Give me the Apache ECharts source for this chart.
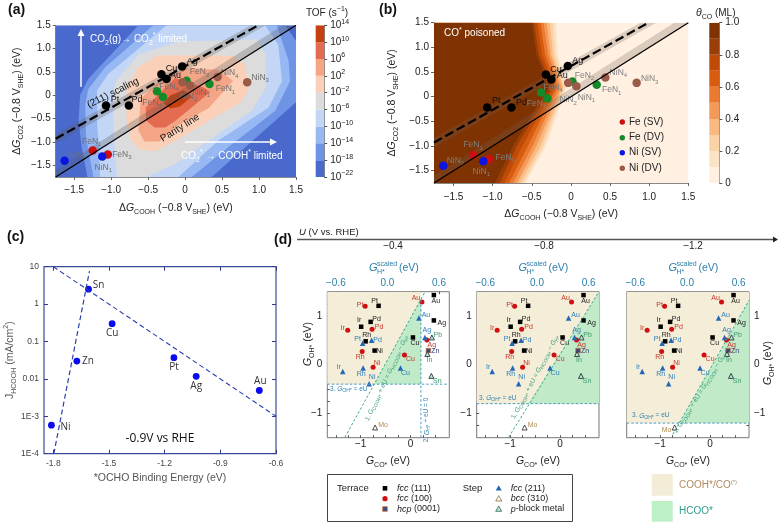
<!DOCTYPE html>
<html><head><meta charset="utf-8">
<style>html,body{margin:0;padding:0;background:#fff}#c{width:780px;height:525px}</style>
<script src="https://cdn.jsdelivr.net/npm/echarts@6/dist/echarts.min.js"></script>
</head><body><div id="c"></div>
<script>
// ---------- panel (a) values ----------
const TOF_EDGES=[-22,-18,-14,-10,-6,-2,2,6,10,14];
const TOF_TICKS=[14,10,6,2,-2,-6,-10,-14,-18,-22];
const A_FULL=[[-1.75,-1.75],[1.5,-1.75],[1.5,1.5],[-1.75,1.5]];
const A_M18=[[-.63,1.5],[-1.31,.35],[-1.42,0],[-1.44,-.54],[-1.4,-1.1],[-1.32,-1.75],[.36,-1.75],[1.5,-.15],[1.5,1.17],[1.35,1.5]];
const A_M14=[[-.43,1.5],[-1.08,.6],[-1.31,.13],[-1.35,-.2],[-1.34,-.9],[-1.24,-1.75],[.09,-1.75],[.59,-1.1],[1.22,-.33],[1.42,.3],[1.4,.74],[1.24,1.5]];
const A_M10=[[-.25,1.5],[-1.04,.455],[-1.19,.1],[-1.19,-.6],[-1.16,-1.18],[-1.15,-1.75],[-.09,-1.75],[.45,-.97],[1.13,-.26],[1.31,.3],[1.26,1.09],[1.08,1.5]];
const A_M6=[[-.09,1.15],[-.63,.88],[-.93,.31],[-.97,.1],[-.97,-.54],[-.95,-1.18],[-.92,-1.75],[-.52,-1.75],[-.135,-1.47],[.9,-.33],[1.09,.17],[1.09,.88],[.97,1.2]];
const A_M2=[[-.38,.86],[-.63,.6],[-.79,.17],[-.79,-.54],[-.74,-.93],[-.63,-1.15],[-.4,-1.2],[-.135,-.98],[.75,-.15],[.85,.1],[.82,.65],[.65,.85]];
const A_P2=[[-.3,.38],[-.6,-.07],[-.63,-.76],[-.55,-.99],[-.35,-.99],[-.135,-.68],[.32,-.27],[.65,.31],[.45,.55],[.05,.58]];
const A_P6=[[-.27,.17],[-.53,-.26],[-.53,-.54],[-.41,-.69],[-.27,-.69],[-.135,-.55],[.09,-.26],[.34,.07],[.25,.17],[-.135,.37]];
const A_P10=[[-.29,-.17],[-.2,0],[-.02,.11],[.09,-.03],[-.07,-.24],[-.2,-.28]];
// ---------- panel (b) values ----------
const THETA_EDGES=[0,.1,.2,.3,.4,.5,.6,.7,.8,.9,1];
const THETA_TICKS=[0,.2,.4,.6,.8,1];
const B_T1=[-.19,-.17,-.05,-.32,-.58];
const B_T2=[-.23,-.2,-.08,-.35,-.61];
const B_T3=[-.27,-.23,-.1,-.39,-.65];
const B_T4=[-.31,-.26,-.12,-.44,-.69];
const B_T5=[-.35,-.29,-.15,-.49,-.74];
const B_T6=[-.39,-.33,-.18,-.55,-.79];
const B_T7=[-.43,-.37,-.21,-.62,-.85];
const B_T8=[-.47,-.41,-.24,-.69,-.91];
const B_T9=[-.5,-.44,-.28,-.74,-.97];
const B_ROW_Y=[1.5,.85,.2,-1,-1.75];
// ---------- shared (a)/(b) lines and points ----------
const SCALING=[[-1.75,-.93],[.99,1.5]];
const PARITY=[[-1.75,-1.75],[1.5,1.5]];
const SCALING_BAND=[[-1.75,-1.03],[1.09,1.5],[.89,1.5],[-1.75,-.83]];
const PARITY_BAND=[[-1.75,-1.75],[1.5,1.5],[1.32,1.5],[-1.75,-1.6]];
const M211=[['Pt',-1.07,-.22],['Pd',-.76,-.22],['Cu',-.32,.45],['Au',-.25,.35],['Ag',-.04,.62]];
const FE_SV=[['FeN1',-1.25,-1.18],['FeN3',-1.045,-1.27]];
const NI_SV=[['NiN2',-1.63,-1.4],['NiN1',-1.12,-1.31]];
const FE_DV=[['FeN4',-.38,.085],['FeN3b',-.3,-.035],['FeN2',.02,.31],['FeN1b',.33,.24]];
const NI_DV=[['NiN2b',-.035,.28],['NiN1b',.07,.21],['NiN4',.44,.39],['NiN3',.84,.28]];
// ---------- panel (c) values ----------
const C_NAMES=['Ni','Zn','Sn','Cu','Pt','Ag','Au'];
const C_X=[-1.81,-1.673,-1.61,-1.483,-1.15,-1.03,-.69];
const C_Y=[5.8e-4,.03,2.5,.3,.037,.0117,.0049];
const C_LINE1=[[-1.797,1e-4],[-1.605,7.6]];
const C_LINE2=[[-1.8,10],[-.6,1e-3]];
// ---------- panel (d) values ----------
const FCC111=[['Au',.47,1.43],['Pt',-.64,1.21],['Pd',-.8,.88],['Ir',-.99,.78],['Rh',-.9,.48],['Ni',-.72,.29],['Ag',.47,.91],['Cu',.05,.56]];
const FCC100=[['Au',.23,1.29],['Pt',-.91,1.2],['Pd',-.77,.73],['Ir',-1.26,.71],['Rh',-.97,.27],['Ni',-.75,-.05],['Cu',-.12,.2],['Ag',.33,.51]];
const HCP=[['Zn',.36,.29]];
const FCC211=[['Au',.17,.96],['Pt',-.96,.44],['Pd',-.78,.5],['Ir',-1.36,-.14],['Rh',-.95,-.07],['Ni',-.83,-.39],['Cu',-.2,-.07],['Ag',.29,.56]];
const BCC310=[['Mo',-.71,-1.29]];
const PBLOCK=[['Pb',.43,.56],['In',.34,.22],['Sn',.42,-.23]];
const U_VALUES=['−0.4','−0.8','−1.2'];
const D1_TAN=[[-1.67,-.4],[-.73,-.4],[.21,1.36],[.21,1.5],[-1.67,1.5]];
const D1_GREEN=[[-.73,-.4],[.21,-.4],[.21,1.36]];
const D1_DIAG=[[-1.315,-1.49],[.295,1.5]];
const D1_H=[[-1.67,-.4],[.78,-.4]];
const D1_V=[[.21,-1.5],[.21,1.36]];
const D2_TAN=[[-1.67,-.8],[-.64,-.8],[.78,1.5],[-1.67,1.5]];
const D2_GREEN=[[-.64,-.8],[.78,-.8],[.78,1.5]];
const D2_DIAG=[[-1.03,-1.49],[.78,1.5]];
const D2_H=[[-1.67,-.8],[.78,-.8]];
const D3_TAN=[[-1.67,-1.2],[-.62,-1.2],[.78,1.32],[.78,1.5],[-1.67,1.5]];
const D3_GREEN=[[-.62,-1.2],[.78,-1.2],[.78,1.32]];
const D3_DIAG=[[-.745,-1.43],[.78,1.32]];
const D3_H=[[-1.67,-1.2],[.78,-1.2]];

// ---------- styles ----------
const FONT='"Liberation Sans",Arial,sans-serif';
const TOF_COLORS=['#4a69cd','#6f94e6','#97b8f2','#c3d6f5','#dcdcdc','#fad0b9','#f4a585','#e26b50','#c6400f'];
const THETA_COLORS=['#fff0e2','#fce3c6','#fbd2a6','#f9b981','#f49a59','#e97a30','#d85c10','#bf4b06','#993e08','#7f3303'];
const LABEL_A={Pt:[9,-6],Pd:[8,-6],Cu:[10,-6],Au:[9,-3],Ag:[10,-5],FeN1:[-1,-9],FeN3:[14,0],NiN2:[13,-5],NiN1:[1,11],FeN4:[12,-5],FeN3b:[-11,6],FeN2:[13,-9],FeN1b:[16,5],NiN2b:[6,14],NiN1b:[11,7],NiN4:[12,-4],NiN3:[13,-5]};
const LABEL_B={Pt:[9,-7],Pd:[10,-5],Cu:[10,-5],Au:[11,-4],Ag:[10,-6],FeN1:[0,-10],FeN3:[16,-2],NiN2:[12,-5],NiN1:[-2,10],FeN4:[12,-5],FeN3b:[-11,5],FeN2:[12,-6],FeN1b:[15,5],NiN2b:[0,17],NiN1b:[10,11],NiN4:[13,-5],NiN3:[13,-4]};
const LABEL_C={Ni:[14,2],Zn:[11,0],Sn:[10,-4],Cu:[0,10],Pt:[0,10],Ag:[0,10],Au:[1,-9]};
const LABEL_111={Au:[2,6],Pt:[-4,-5],Pd:[6,-3],Ir:[-2,-7],Rh:[1,-6],Ni:[5,0],Ag:[8,3],Cu:[2,6]};
const LABEL_100={Au:[-6,-4],Pt:[-5,-1],Pd:[7,-2],Ir:[-5,-2],Rh:[-2,6],Ni:[4,-4],Cu:[6,4],Ag:[5,5]};
const LABEL_211={Au:[7,-3],Pt:[-5,-4],Pd:[6,0],Ir:[-4,-4],Rh:[-2,6],Ni:[3,-7],Cu:[5,5],Ag:[2,-7]};
const LABEL_PB={Pb:[6,-2],In:[2,6],Sn:[6,5]};
const SUB={fontSize:7,verticalAlign:'bottom',lineHeight:15,fontFamily:FONT};
const SUP={fontSize:7,verticalAlign:'top',lineHeight:15,fontFamily:FONT};
const RICH={i:{fontStyle:'italic',fontFamily:FONT,fontSize:10.5},b:SUB,t:SUP,ib:Object.assign({},SUB,{fontStyle:'italic'})};

const grids=[],xAxes=[],yAxes=[],series=[],G=[];
function poly(xi,yi,items){series.push({type:'custom',xAxisIndex:xi,yAxisIndex:yi,clip:true,silent:true,data:[[0,0]],
  renderItem:(p,api)=>({type:'group',children:items.map(it=>({type:'polygon',shape:{points:it[0].map(q=>api.coord(q))},style:{fill:it[1]}}))})});}
function line(xi,yi,pts,color,width,dash){series.push({type:'line',xAxisIndex:xi,yAxisIndex:yi,data:pts,showSymbol:false,silent:true,lineStyle:{color,width,type:dash||'solid'}});}
function pts(xi,yi,rows,labels,cfg){series.push({type:'scatter',xAxisIndex:xi,yAxisIndex:yi,silent:true,symbol:cfg.symbol||'circle',symbolSize:cfg.size,itemStyle:{color:cfg.color,borderColor:cfg.border||cfg.color,borderWidth:cfg.bw||0,opacity:1},
  data:rows.map(r=>({value:[r[1],r[2]],name:r[0],label:{show:true,position:'inside',offset:labels[r[0]]||[0,-6],formatter:cfg.fmt?cfg.fmt(r[0]):r[0]}})),
  label:{color:cfg.lc,fontSize:cfg.lf||8,fontFamily:cfg.lff||FONT,rich:{b:{fontSize:cfg.lf?cfg.lf-2.5:6,verticalAlign:'bottom',lineHeight:12,color:cfg.lc}}}});}
function txt(x,y,text,o){o=o||{};return {type:'text',x,y,rotation:o.rot||0,z:100,silent:true,style:{text,fontFamily:o.ff||FONT,fontSize:o.fs||10,fontWeight:o.w||'normal',fontStyle:o.st||'normal',fill:o.c||'#222',align:o.a||'left',verticalAlign:'middle',rich:o.rich||undefined}};}
function addGrid(l,t,w,h,extra){grids.push(Object.assign({left:l,top:t,width:w,height:h,show:false},extra||{}));return grids.length-1;}
const fmtMinus=v=>String(+(+v).toFixed(1)).replace('-','−');
const aTicks=[-1.5,-1,-.5,0,.5,1,1.5];
const fmtA=v=>{const s=(+v).toFixed(1);return v==0?'0':s.replace('-','−');};
function contourPanel(gi,xname,yname,ng,xm){
  xAxes.push({gridIndex:gi,type:'value',min:-1.75,max:1.5,axisLine:{show:true,onZero:false,lineStyle:{color:'#888'}},splitLine:{show:false},
    axisTick:{show:true,length:3,customValues:aTicks,lineStyle:{color:'#666'}},axisLabel:{customValues:aTicks,formatter:fmtA,fontSize:10,color:'#222',margin:xm,fontFamily:FONT,hideOverlap:false},
    name:xname,nameLocation:'middle',nameGap:ng[0],nameTextStyle:{fontSize:10.5,color:'#222',fontFamily:FONT,rich:RICH}});
  yAxes.push({gridIndex:gi,type:'value',min:-1.75,max:1.5,axisLine:{show:true,onZero:false,lineStyle:{color:'#888'}},splitLine:{show:false},
    axisTick:{show:true,length:3,customValues:aTicks,lineStyle:{color:'#666'}},axisLabel:{customValues:aTicks,formatter:fmtA,fontSize:10,color:'#222',margin:5,fontFamily:FONT,hideOverlap:false},
    name:yname,nameLocation:'middle',nameGap:ng[1],nameTextStyle:{fontSize:10.5,color:'#222',fontFamily:FONT,rich:RICH}});
}
const nName=n=>{const m=n.replace(/b$/,'').match(/^(FeN|NiN)(\d)$/);return m?`${m[1]}{b|${m[2]}}`:n;};
function overlay(xi,labels,grey,bandColor){
  poly(xi,xi,[[SCALING_BAND,bandColor],[PARITY_BAND,bandColor]]);
  line(xi,xi,SCALING,'#000',2.2,[9,4]);
  line(xi,xi,PARITY,'#000',1.3);
  pts(xi,xi,FE_SV,labels,{color:'#cc0f0f',size:8.5,lc:grey,lf:8.5,fmt:nName});
  pts(xi,xi,NI_SV,labels,{color:'#0a16e0',size:8.5,lc:grey,lf:8.5,fmt:nName});
  pts(xi,xi,FE_DV,labels,{color:'#128a2a',size:8.5,lc:grey,lf:8.5,fmt:nName});
  pts(xi,xi,NI_DV,labels,{color:'#9a5a48',size:8.5,lc:grey,lf:8.5,fmt:nName});
  pts(xi,xi,M211,labels,{color:'#000',size:8.5,lc:'#111',lf:9});
}
function colorbar(l,t,w,h,min,max,ticks,edges,colors,fmt){
  const gi=addGrid(l,t,w,h);
  xAxes.push({gridIndex:gi,type:'value',min:0,max:1,show:false});
  yAxes.push({gridIndex:gi,type:'value',position:'right',min,max,splitLine:{show:false},axisLine:{show:true,onZero:false,lineStyle:{color:'#888'}},
    axisTick:{show:true,length:3,customValues:ticks,lineStyle:{color:'#555'}},axisLabel:{customValues:ticks,formatter:fmt,fontSize:10,color:'#222',margin:6,fontFamily:FONT,hideOverlap:false,rich:{t:{fontSize:7,verticalAlign:'top',lineHeight:14,color:'#222'}}}});
  poly(gi,gi,colors.map((c,i)=>[[[0,edges[i]],[1,edges[i]],[1,edges[i+1]],[0,edges[i+1]]],c]));
}

// ---- (a) ----
const ga=addGrid(55.7,25.3,240.3,151.7);
contourPanel(ga,'Δ{i|G}{b|COOH} (−0.8 V{b|SHE}) (eV)','Δ{i|G}{b|CO2} (−0.8 V{b|SHE}) (eV)',[24,31],8);
poly(ga,ga,[[A_FULL,TOF_COLORS[0]],[A_M18,TOF_COLORS[1]],[A_M14,TOF_COLORS[2]],[A_M10,TOF_COLORS[3]],[A_M6,TOF_COLORS[4]],[A_M2,TOF_COLORS[5]],[A_P2,TOF_COLORS[6]],[A_P6,TOF_COLORS[7]],[A_P10,TOF_COLORS[8]]]);
overlay(ga,LABEL_A,'#6f6f6f','rgba(90,90,90,0.28)');
colorbar(315.7,25.3,8.5,151.7,-22,14,TOF_TICKS,TOF_EDGES,TOF_COLORS,v=>`10{t|${String(v).replace('-','−')}}`);
// ---- (b) ----
const gb=addGrid(434,22.7,254.3,160.3);
contourPanel(gb,'Δ{i|G}{b|COOH} (−0.8 V{b|SHE}) (eV)','Δ{i|G}{b|CO2} (−0.8 V{b|SHE}) (eV)',[24,34],9);
const bPoly=t=>[[-1.75,1.5]].concat(t.map((x,i)=>[x,B_ROW_Y[i]])).concat([[-1.75,-1.75]]);
poly(gb,gb,[[A_FULL,THETA_COLORS[0]],[bPoly(B_T1),THETA_COLORS[1]],[bPoly(B_T2),THETA_COLORS[2]],[bPoly(B_T3),THETA_COLORS[3]],[bPoly(B_T4),THETA_COLORS[4]],[bPoly(B_T5),THETA_COLORS[5]],[bPoly(B_T6),THETA_COLORS[6]],[bPoly(B_T7),THETA_COLORS[7]],[bPoly(B_T8),THETA_COLORS[8]],[bPoly(B_T9),THETA_COLORS[9]]]);
overlay(gb,LABEL_B,'#7f7f7f','rgba(110,95,85,0.25)');
colorbar(709.3,22.7,10,160.3,0,1,THETA_TICKS,THETA_EDGES,THETA_COLORS,v=>v==0?'0':(+v).toFixed(1));
// ---- (c) ----
const gc=addGrid(44,266.7,232,187,{show:true,borderColor:'#3b4a9a',borderWidth:1.2});
const cTicks=[-1.8,-1.5,-1.2,-.9,-.6];
const cLab={'10':'10','1':'1','0.1':'0.1','0.01':'0.01','0.001':'1E-3','0.0001':'1E-4'};
const cx0=xAxes.length,cy0=yAxes.length;
xAxes.push({gridIndex:gc,type:'value',min:-1.85,max:-.6,splitLine:{show:false},axisLine:{show:false,onZero:false},
  axisTick:{show:true,inside:true,length:4,customValues:cTicks,lineStyle:{color:'#2c3a90'}},axisLabel:{customValues:cTicks,formatter:v=>(+v).toFixed(1),fontSize:8.5,color:'#444',margin:5,fontFamily:FONT,hideOverlap:false},
  name:'*OCHO Binding Energy (eV)',nameLocation:'middle',nameGap:19,nameTextStyle:{fontSize:10.5,color:'#555',fontFamily:FONT}});
yAxes.push({gridIndex:gc,type:'log',logBase:10,min:1e-4,max:10,splitLine:{show:false},axisLine:{show:false,onZero:false},
  axisTick:{show:true,inside:true,length:4,lineStyle:{color:'#2c3a90'}},axisLabel:{formatter:v=>cLab[String(+(+v).toPrecision(3))]||String(v),fontSize:8.5,color:'#444',margin:5,fontFamily:FONT,hideOverlap:false},
  name:'J{b|HCOOH} (mA/cm{t|2})',nameLocation:'middle',nameGap:26,nameTextStyle:{fontSize:10.5,color:'#555',fontFamily:FONT,rich:RICH}});
xAxes.push({gridIndex:gc,type:'value',position:'top',min:-1.85,max:-.6,splitLine:{show:false},axisLine:{show:false,onZero:false},
  axisTick:{show:true,inside:true,length:4,customValues:cTicks,lineStyle:{color:'#2c3a90'}},axisLabel:{show:false}});
yAxes.push({gridIndex:gc,type:'log',logBase:10,position:'right',min:1e-4,max:10,splitLine:{show:false},axisLine:{show:false,onZero:false},
  axisTick:{show:true,inside:true,length:4,lineStyle:{color:'#2c3a90'}},axisLabel:{show:false}});
line(cx0,cy0,C_LINE1,'#2a3fae',1.2,[5,3]);
line(cx0,cy0,C_LINE2,'#2a3fae',1.1,[5,3]);
pts(cx0,cy0,C_NAMES.map((n,i)=>[n,C_X[i],C_Y[i]]),LABEL_C,{color:'#0a0af0',size:6.8,lc:'#333',lf:10,lff:'"Open Sans",sans-serif'});
// ---- (d) ----
const DX=[327.3,476.7,626.7],TEAL='#3aa58a',BLUEDASH='#4a9ac0',TAN='#f4edd8',GRN='#c0eac8';
const dTicksX=[-1.5,-1.25,-1,-.75,-.5,-.25,0,.25,.5];
const dTicksY=[-1.25,-1,-.75,-.5,-.25,0,.25,.5,.75,1,1.25];
const topTicks=[-.6,-.3,0,.3,.6];
DX.forEach((l,k)=>{
  const g=addGrid(l,291.7,k==0?122:122.3,146,{show:true,borderColor:'#777',borderWidth:1});
  const xi=xAxes.length,yi=yAxes.length;
  xAxes.push({gridIndex:g,type:'value',min:-1.67,max:.78,splitLine:{show:false},axisLine:{show:false,onZero:false},
    axisTick:{show:true,inside:true,length:2.5,customValues:dTicksX,lineStyle:{color:'#555'}},axisLabel:{customValues:[-1,0],formatter:fmtMinus,fontSize:10,color:'#222',margin:2,fontFamily:FONT,hideOverlap:false}});
  xAxes.push({gridIndex:g,type:'value',position:'top',min:-.7,max:.72,splitLine:{show:false},axisLine:{show:false,onZero:false},
    axisTick:{show:true,inside:true,length:2.5,customValues:topTicks,lineStyle:{color:'#555'}},axisLabel:{customValues:[-.6,0,.6],formatter:v=>(+v).toFixed(1).replace('-','−'),fontSize:10,color:'#2b7ea8',margin:3,fontFamily:FONT,hideOverlap:false}});
  yAxes.push({gridIndex:g,type:'value',position:k==2?'right':'left',min:-1.5,max:1.5,splitLine:{show:false},axisLine:{show:false,onZero:false},
    axisTick:{show:true,inside:true,length:2.5,customValues:dTicksY,lineStyle:{color:'#555'}},axisLabel:{customValues:[-1,0,1],formatter:fmtMinus,fontSize:10,color:'#222',margin:5,fontFamily:FONT,hideOverlap:false}});
  const tan=[D1_TAN,D2_TAN,D3_TAN][k],grn=[D1_GREEN,D2_GREEN,D3_GREEN][k],diag=[D1_DIAG,D2_DIAG,D3_DIAG][k],h=[D1_H,D2_H,D3_H][k];
  poly(xi,yi,[[tan,TAN],[grn,GRN]]);
  line(xi,yi,diag,TEAL,1,[2.5,2]);
  line(xi,yi,h,BLUEDASH,1,[2.5,2]);
  if(k==0) line(xi,yi,D1_V,BLUEDASH,1,[2.5,2]);
  pts(xi,yi,BCC310,k==2?{Mo:[-8,3]}:{Mo:[8,-2]},{symbol:'triangle',color:'#fff',border:'#222',bw:.8,size:5,lc:'#b08a50',lf:7});
  pts(xi,yi,FCC111,LABEL_111,{symbol:'rect',color:'#000',size:4.5,lc:'#222',lf:7});
  pts(xi,yi,FCC100,LABEL_100,{color:'#d01010',size:5,lc:'#c0392b',lf:7});
  pts(xi,yi,FCC211,LABEL_211,{symbol:'triangle',color:'#2467b8',size:5.5,lc:'#2f7fb8',lf:7});
  pts(xi,yi,HCP,{Zn:[7,0]},{symbol:'rect',color:'#3a4a80',border:'#c47040',bw:.8,size:4.5,lc:'#3a3a7a',lf:7});
  pts(xi,yi,PBLOCK,LABEL_PB,{symbol:'triangle',color:'#bfe6c8',border:'#123',bw:.8,size:5,lc:'#3f9a6a',lf:7});
});

// ---- text and decoration ----
const lab=(x,y,s)=>txt(x,y,s,{fs:14,w:'bold',c:'#111'});
G.push(lab(8,10,'(a)'),lab(379,10,'(b)'),lab(7,237,'(c)'),lab(274,240,'(d)'));
G.push(txt(327,13,'TOF (s{t|−1})',{a:'center',rich:RICH,fs:10}));
G.push(txt(715.7,13,'{i|θ}{b|CO} (ML)',{a:'center',rich:RICH,fs:10}));
const WH='#fff';
G.push({type:'line',z:100,silent:true,shape:{x1:81,y1:86.7,x2:81,y2:33},style:{stroke:WH,lineWidth:1.5}});
G.push({type:'polygon',z:100,silent:true,shape:{points:[[81,29],[77.5,36],[84.5,36]]},style:{fill:WH}});
G.push({type:'line',z:100,silent:true,shape:{x1:185,y1:142,x2:272,y2:142},style:{stroke:WH,lineWidth:1.5}});
G.push({type:'polygon',z:100,silent:true,shape:{points:[[277,142],[270,138.5],[270,145.5]]},style:{fill:WH}});
G.push(txt(90,39,'CO{b|2}(g)→ CO{b|2}{t|*} limited',{c:WH,fs:10,rich:{b:SUB,t:SUP}}));
G.push(txt(181,156,'CO{b|2}{t|*} → COOH{t|*} limited',{c:WH,fs:10,rich:{b:SUB,t:SUP}}));
G.push(txt(113,93,'(211) scaling',{a:'center',rot:.46,fs:10,c:'#111'}));
G.push(txt(180,128,'Parity line',{a:'center',rot:.56,fs:10,c:'#111'}));
G.push(txt(444,33.7,'CO{t|*} poisoned',{c:WH,fs:10,rich:{t:SUP}}));
[['Fe (SV)','#cc0f0f',122],['Fe (DV)','#128a2a',137.7],['Ni (SV)','#0a16e0',152.7],['Ni (DV)','#9a5a48',168.3]].forEach(r=>{
  G.push({type:'circle',z:100,silent:true,shape:{cx:622.3,cy:r[2],r:2.7},style:{fill:r[1]}});
  G.push(txt(629,r[2],r[0],{fs:10}));
});
G.push(txt(160,439,'-0.9V vs RHE',{a:'center',fs:12,ff:'"Open Sans",sans-serif',c:'#111'}));
// U axis
G.push({type:'line',z:100,silent:true,shape:{x1:297,y1:239.5,x2:774,y2:239.5},style:{stroke:'#555',lineWidth:1.3}});
G.push({type:'polygon',z:100,silent:true,shape:{points:[[778,239.5],[773,236.5],[773,242.5]]},style:{fill:'#222'}});
G.push(txt(299,232,'{i|U} (V vs. RHE)',{fs:9.5,rich:{i:{fontStyle:'italic',fontFamily:FONT,fontSize:9.5}}}));
[393,544,693].forEach((x,i)=>G.push(txt(x,246.7,U_VALUES[i],{a:'center',fs:10})));
// d axis captions
const BLUE='#2b7ea8';
[[388],[537.5],[687.5]].forEach(r=>{
  const x=r[0];
  G.push(txt(x-19,268,'G',{fs:11,st:'italic',c:BLUE}));
  G.push(txt(x-11,264,'scaled',{fs:7,c:BLUE}));
  G.push(txt(x-11,272,'H*',{fs:7,c:BLUE}));
  G.push(txt(x+11,268,'(eV)',{fs:10.5,c:BLUE}));
});
[388,538,688].forEach(x=>G.push(txt(x,461,'{i|G}{b|CO*} (eV)',{a:'center',fs:10.5,rich:RICH})));
G.push(txt(308,344,'{i|G}{b|OH*} (eV)',{a:'center',fs:10.5,rot:Math.PI/2,rich:RICH}));
G.push(txt(768,363,'{i|G}{b|OH*} (eV)',{a:'center',fs:10.5,rot:Math.PI/2,rich:RICH}));
const SS={fontSize:5,verticalAlign:'bottom',lineHeight:9,fontFamily:FONT},IT={fontStyle:'italic',fontSize:6.5,fontFamily:FONT};
const eqr={i:IT,b:SS};
[[386.7,378,65],[535,377,62],[700,393,58]].forEach(r=>G.push(txt(r[0],r[1],'1. {i|G}{b|COOH*} + eU = {i|G}{b|HCOOH} − {i|G}{b|H*}',{a:'center',fs:6.5,rot:r[2]*Math.PI/180,c:'#3a9c78',rich:eqr})));
[[330,389],[479,398],[632,415.7]].forEach(r=>G.push(txt(r[0],r[1],'3. {i|G}{b|OH*} = eU',{fs:6.5,c:'#2f80b0',rich:eqr})));
G.push(txt(426.7,420,'2. {i|G}{b|H*} + eU = 0',{a:'center',fs:6.5,rot:Math.PI/2,c:'#2f80b0',rich:eqr}));
// legend box
G.push({type:'rect',z:100,silent:true,shape:{x:327.5,y:474.5,width:245,height:47},style:{fill:'none',stroke:'#444',lineWidth:1}});
G.push(txt(337,488,'Terrace',{fs:9.5}),txt(462.7,488,'Step',{fs:9.5}));
const mk=(type,x,y,fill,stroke)=>{
  if(type=='s')return {type:'rect',z:100,silent:true,shape:{x:x-2.3,y:y-2.3,width:4.6,height:4.6},style:{fill,stroke:stroke||fill,lineWidth:stroke?.8:0}};
  if(type=='c')return {type:'circle',z:100,silent:true,shape:{cx:x,cy:y,r:2.6},style:{fill}};
  return {type:'polygon',z:100,silent:true,shape:{points:[[x,y-3],[x-3,y+2.3],[x+3,y+2.3]]},style:{fill,stroke:stroke||fill,lineWidth:stroke?.8:0}};
};
const itr={i:{fontStyle:'italic',fontFamily:FONT,fontSize:9}};
G.push(mk('s',385,488.3,'#000'),txt(397,488.3,'{i|fcc} (111)',{fs:9,rich:itr}));
G.push(mk('c',385,498.7,'#d01010'),txt(397,498.7,'{i|fcc} (100)',{fs:9,rich:itr}));
G.push(mk('s',385,509,'#3a4a80','#c47040'),txt(397,509,'{i|hcp} (0001)',{fs:9,rich:itr}));
G.push(mk('t',498.7,488.3,'#2467b8'),txt(510.7,488.3,'{i|fcc} (211)',{fs:9,rich:itr}));
G.push(mk('t',498.7,498.7,'#fff','#8a7040'),txt(510.7,498.7,'{i|bcc} (310)',{fs:9,rich:itr}));
G.push(mk('t',498.7,509,'#bfe6c8','#2a6a5a'),txt(510.7,509,'{i|p}-block metal',{fs:9,rich:itr}));
G.push({type:'rect',z:100,silent:true,shape:{x:651.7,y:474,width:21,height:21.7},style:{fill:'#f3ecd7'}});
G.push({type:'rect',z:100,silent:true,shape:{x:651.7,y:501,width:21,height:20.7},style:{fill:'#bdf0c4'}});
G.push(txt(679,485.7,'COOH*/CO{t|(*)}',{fs:10,c:'#b08a60',rich:{t:{fontSize:6,verticalAlign:'top',lineHeight:13,fontFamily:FONT}}}));
G.push(txt(679,511,'HCOO*',{fs:10,c:'#2f9d8d'}));

const chart=echarts.init(document.getElementById('c'),null,{renderer:'canvas',width:780,height:525});
chart.setOption({animation:false,backgroundColor:'#fff',textStyle:{fontFamily:FONT},grid:grids,xAxis:xAxes,yAxis:yAxes,series,graphic:{elements:G}});
</script></body></html>
